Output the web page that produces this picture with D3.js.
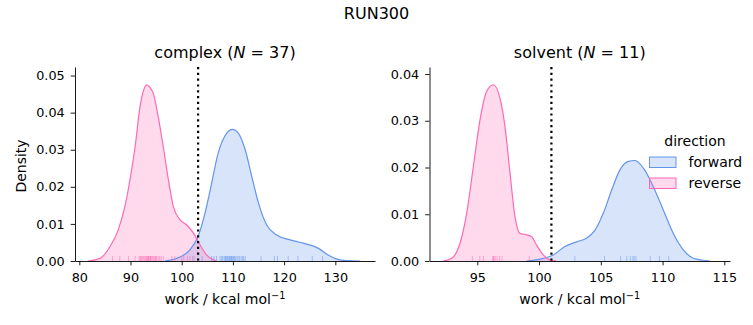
<!DOCTYPE html>
<html>
<head>
<meta charset="utf-8">
<script src="https://cdn.jsdelivr.net/npm/d3@7"></script>
<style>
  body { margin: 0; background: #fff; }
  svg { display: block; font-family: "DejaVu Sans", sans-serif; }
</style>
</head>
<body>
<svg id="chart" width="753" height="325"></svg>
<script>
// ---------- data ----------
const suptitle = "RUN300";
const directions = ["forward", "reverse"];
const colors = { forward: "#6495ED", reverse: "#FF69B4" };

// complex panel: KDE curves (work value, density)
const complexFwdX = [96.7, 99.0, 101.6, 103.2, 104.55, 105.85, 107.1, 108.8, 109.9, 111.05, 112.4, 113.7, 115.0, 116.6, 118.55, 121.15, 123.75, 126.7, 128.6, 130.3, 132.2, 134.8];
const complexFwdY = [0, 0.0007, 0.003, 0.0066, 0.0129, 0.021, 0.029, 0.0345, 0.0355, 0.0345, 0.030, 0.0227, 0.0156, 0.0097, 0.007, 0.0057, 0.0048, 0.0034, 0.0016, 0.0005, 0.0001, 0];
const complexRevX = [81.7, 84.05, 86.0, 87.6, 88.9, 89.9, 90.9, 91.86, 92.5, 93.16, 93.8, 94.45, 95.4, 96.4, 97.4, 98.36, 99.67, 100.97, 102.3, 103.6, 104.9, 106.2, 106.8];
const complexRevY = [0, 0.0007, 0.0039, 0.0084, 0.0147, 0.0219, 0.0308, 0.0416, 0.0458, 0.0475, 0.0468, 0.0452, 0.039, 0.0308, 0.0219, 0.0147, 0.0111, 0.0097, 0.0075, 0.0043, 0.0016, 0.0003, 0];
// complex panel: rug samples
const complexFwdRug = [102.4, 104.0, 105.85, 106.3, 106.8, 107.5, 107.8, 108.0, 108.3, 108.6, 108.8, 108.9, 109.1, 109.3, 109.6, 109.7, 109.8, 110.0, 110.3, 110.5, 110.8, 111.0, 111.3, 111.6, 111.9, 112.1, 112.4, 115.5, 118.1, 118.7, 120.8, 122.7, 125.5, 127.5, 110.1, 109.4, 108.5];
const complexRevRug = [86.5, 87.9, 89.6, 90.9, 91.7, 91.9, 92.0, 92.2, 92.4, 92.6, 92.8, 93.0, 93.1, 93.3, 93.5, 93.6, 93.8, 93.9, 94.0, 94.2, 94.4, 94.6, 94.8, 94.9, 95.1, 95.4, 95.7, 96.0, 96.4, 98.05, 98.7, 100.0, 100.4, 101.1, 101.6, 102.1, 93.4];
const complexDG = 103.2;

// solvent panel: KDE curves
const solventFwdX = [99.0, 100.08, 101.15, 102.1, 103.05, 103.86, 104.53, 105.2, 105.88, 106.55, 107.23, 107.77, 108.44, 109.25, 110.06, 110.87, 111.68, 112.49, 113.84];
const solventFwdY = [0, 0.0004, 0.0013, 0.0031, 0.0041, 0.0049, 0.0066, 0.0102, 0.0152, 0.0195, 0.0213, 0.0215, 0.0199, 0.0159, 0.0109, 0.0059, 0.0024, 0.0006, 0];
const solventRevX = [92.25, 92.93, 93.6, 94.14, 94.68, 95.22, 95.76, 96.3, 96.84, 97.24, 97.65, 98.05, 98.46, 99.0, 99.4, 99.8, 100.34, 100.9, 101.4];
const solventRevY = [0, 0.0006, 0.0038, 0.0102, 0.0202, 0.0302, 0.0363, 0.0377, 0.0348, 0.0288, 0.0188, 0.0095, 0.0059, 0.0056, 0.0052, 0.0034, 0.0013, 0.0002, 0];
// solvent panel: rug samples
const solventFwdRug = [102.9, 105.3, 106.6, 107.1, 107.4, 107.6, 107.7, 107.85, 109.0, 109.75, 110.5];
const solventRevRug = [94.6, 95.2, 95.5, 96.25, 96.35, 96.45, 96.6, 96.8, 97.0, 99.2, 96.3];
const solventDG = 101.0;

// ticks
const complexXTicks = [80, 90, 100, 110, 120, 130];
const complexYTicks = [0, 0.01, 0.02, 0.03, 0.04, 0.05];
const solventXTicks = [95, 100, 105, 110, 115];
const solventYTicks = [0, 0.01, 0.02, 0.03, 0.04];

const panels = [
  { title: "complex", n: 37, left: 75, right: 375, xDomain: [79.16, 137.75], yMax: 0.0523,
    xTicks: complexXTicks, yTicks: complexYTicks, dg: complexDG, ylabel: "Density",
    fwd: { x: complexFwdX, y: complexFwdY, rug: complexFwdRug },
    rev: { x: complexRevX, y: complexRevY, rug: complexRevRug } },
  { title: "solvent", n: 11, left: 429.5, right: 730, xDomain: [91.13, 115.46], yMax: 0.0415,
    xTicks: solventXTicks, yTicks: solventYTicks, dg: solventDG, ylabel: null,
    fwd: { x: solventFwdX, y: solventFwdY, rug: solventFwdRug },
    rev: { x: solventRevX, y: solventRevY, rug: solventRevRug } }
];

const svg = d3.select("#chart");
const plotTop = 67, plotBottom = 261;
const tickFont = 12.8, labelFont = 14, titleFont = 16;

svg.append("text").attr("x", 376.5).attr("y", 18.5).attr("text-anchor", "middle")
  .attr("font-size", titleFont).attr("fill", "#000").text(suptitle);

panels.forEach(p => {
  const x = d3.scaleLinear().domain(p.xDomain).range([p.left, p.right]);
  const y = d3.scaleLinear().domain([0, p.yMax]).range([plotBottom, plotTop]);
  const g = svg.append("g");

  const area = d3.area().x(d => x(d[0])).y0(y(0)).y1(d => y(d[1])).curve(d3.curveMonotoneX);
  const line = d3.line().x(d => x(d[0])).y(d => y(d[1])).curve(d3.curveMonotoneX);

  const series = [["forward", p.fwd], ["reverse", p.rev]];
  series.forEach(([dir, s]) => {
    const pts = s.x.map((v, i) => [v, s.y[i]]);
    g.append("path").datum(pts).attr("d", area)
      .attr("fill", colors[dir]).attr("fill-opacity", 0.25).attr("stroke", "none");
  });
  series.forEach(([dir, s]) => {
    const pts = s.x.map((v, i) => [v, s.y[i]]);
    g.append("path").datum(pts).attr("d", line)
      .attr("fill", "none").attr("stroke", colors[dir]).attr("stroke-width", 1.2);
  });
  series.forEach(([dir, s]) => {
    g.selectAll(null).data(s.rug).enter().append("line")
      .attr("x1", d => x(d)).attr("x2", d => x(d))
      .attr("y1", plotBottom).attr("y2", plotBottom - 5)
      .attr("stroke", colors[dir]).attr("stroke-width", 1).attr("stroke-opacity", 0.5);
  });

  g.append("line").attr("x1", x(p.dg)).attr("x2", x(p.dg))
    .attr("y1", plotTop).attr("y2", plotBottom)
    .attr("stroke", "#000").attr("stroke-width", 2.2).attr("stroke-dasharray", "2.2,3.6");

  const xAxis = d3.axisBottom(x).tickValues(p.xTicks).tickFormat(d3.format("d"))
    .tickSizeInner(4.3).tickSizeOuter(0).tickPadding(7.5);
  const yAxis = d3.axisLeft(y).tickValues(p.yTicks).tickFormat(d3.format(".2f"))
    .tickSizeInner(4.3).tickSizeOuter(0).tickPadding(6);
  const gx = svg.append("g").attr("transform", `translate(0,${plotBottom})`).call(xAxis);
  const gy = svg.append("g").attr("transform", `translate(${p.left},0)`).call(yAxis);
  [gx, gy].forEach(ax => {
    ax.selectAll("text").attr("font-size", tickFont).attr("font-family", "DejaVu Sans").attr("fill", "#000");
    ax.selectAll("line").attr("stroke", "#000").attr("stroke-width", 0.9);
    ax.select(".domain").attr("stroke", "#000").attr("stroke-width", 0.9);
  });

  const cx = (p.left + p.right) / 2;
  const t = svg.append("text").attr("x", cx).attr("y", 57.5).attr("text-anchor", "middle")
    .attr("font-size", titleFont).attr("fill", "#000");
  t.append("tspan").text(p.title + " (");
  t.append("tspan").attr("font-style", "italic").text("N");
  t.append("tspan").text(" = " + p.n + ")");

  const xl = svg.append("text").attr("x", cx).attr("y", 304).attr("text-anchor", "middle")
    .attr("font-size", labelFont).attr("fill", "#000");
  xl.append("tspan").text("work / kcal mol");
  xl.append("tspan").attr("dy", -5.5).attr("font-size", labelFont * 0.7).text("\u22121");

  if (p.ylabel) {
    svg.append("text").attr("transform", `translate(26,${(plotTop + plotBottom) / 2 + 2}) rotate(-90)`)
      .attr("text-anchor", "middle").attr("font-size", labelFont).attr("fill", "#000").text(p.ylabel);
  }
});

const lg = svg.append("g");
lg.append("text").attr("x", 695).attr("y", 146).attr("text-anchor", "middle")
  .attr("font-size", labelFont).attr("fill", "#000").text("direction");
directions.forEach((dir, i) => {
  const yy = 157 + i * 21;
  lg.append("rect").attr("x", 649.5).attr("y", yy).attr("width", 26.5).attr("height", 10.5)
    .attr("fill", colors[dir]).attr("fill-opacity", 0.25).attr("stroke", colors[dir]).attr("stroke-width", 1);
  lg.append("text").attr("x", 688.5).attr("y", yy + 9.5).attr("font-size", labelFont)
    .attr("fill", "#000").text(dir);
});
</script>
</body>
</html>
